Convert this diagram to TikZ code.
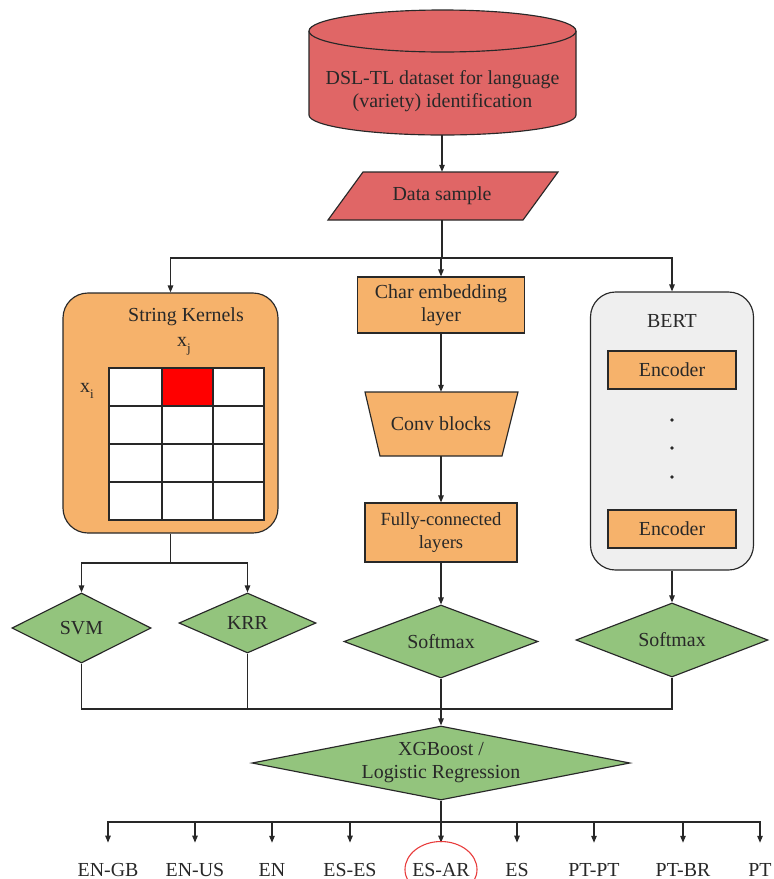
\documentclass[tikz,border=0pt]{standalone}
\usepackage{fontspec}
\setmainfont{Liberation Serif}
\usetikzlibrary{arrows.meta,shapes.geometric}
\definecolor{cylred}{RGB}{224,102,102}
\definecolor{orangef}{RGB}{246,178,107}
\definecolor{greenf}{RGB}{147,196,125}
\definecolor{grayf}{RGB}{239,239,239}
\definecolor{lc}{RGB}{40,40,40}
\definecolor{circred}{RGB}{232,60,60}
\begin{document}
\begin{tikzpicture}[x=1pt,y=-1pt,
  every node/.style={font=\fontsize{19.9}{23}\selectfont, text=lc},
  line/.style={draw=lc, line width=1.15pt},
  arr/.style={line, -{Triangle[length=7pt,width=5.5pt]}},
  txt/.style={inner sep=0pt, align=center},
  box/.style={line, fill=orangef, rectangle, inner sep=0pt, align=center},
  dia/.style={line, fill=greenf, diamond, inner sep=0pt, align=center},
  rbox/.style={line, rectangle, rounded corners=25pt, inner sep=0pt}]
\useasboundingbox (0,0) rectangle (774,879);

% cylinder
\path[line, fill=cylred] (309,31) -- (309,115) arc[start angle=180, end angle=0, x radius=133.5, y radius=20] -- (576,31);
\path[line, fill=cylred] (442.5,31) ellipse [x radius=133.5, y radius=21];
\node[txt] (db) at (442.5,91) {DSL-TL dataset for language\\(variety) identification};
\coordinate (dbb) at (442,135);

% data sample parallelogram
\path[line, fill=cylred] (363,172) -- (558,172) -- (523,220) -- (328,220) -- cycle;
\node[txt, minimum width=195pt, minimum height=48pt] (ds) at (442,196) {Data sample};

% String kernels
\node[rbox, fill=orangef, minimum width=215pt, minimum height=240pt] (sk) at (170.5,413) {};
\node[txt] (skt) at (186,317) {String Kernels};
\node[txt] (xj) at (184,346) {x\raisebox{-6pt}{\fontsize{13}{13}\selectfont j}};
\node[txt] (xi) at (87,391) {x\raisebox{-6pt}{\fontsize{13}{13}\selectfont i}};
\path[line, fill=white] (109,368) rectangle (264,520);
\path[line, fill=red] (162,368) rectangle (213,406);
\draw[line] (162,368) -- (162,520) (213,368) -- (213,520)
            (109,406) -- (264,406) (109,444) -- (264,444) (109,482) -- (264,482);

% center column
\node[box, minimum width=167pt, minimum height=56pt] (ce) at (441,305) {Char embedding\\layer};
\path[line, fill=orangef] (365,392) -- (518,392) -- (502,456) -- (380,456) -- cycle;
\node[txt, minimum width=153pt, minimum height=64pt] (conv) at (441,424) {Conv blocks};
\node[box, minimum width=152pt, minimum height=59pt, font=\fontsize{18.6}{23}\selectfont] (fc) at (441,532.5) {Fully-connected\\layers};
\node[dia, minimum width=194pt, minimum height=73pt, aspect=2.66] (sm1) at (441,641.5) {Softmax};

% BERT
\node[rbox, fill=grayf, minimum width=163pt, minimum height=278pt] (bert) at (672,431) {};
\node[txt] (bt) at (672,321) {BERT};
\node[box, minimum width=128pt, minimum height=38pt] (enc1) at (672,370) {Encoder};
\node[box, minimum width=128pt, minimum height=38pt] (enc2) at (672,529) {Encoder};
\fill[lc] (672,420) circle (1.9) (672,448) circle (1.9) (672,477) circle (1.9);
\node[dia, minimum width=192pt, minimum height=74pt, aspect=2.6] (sm2) at (672,640) {Softmax};

% SVM / KRR
\node[dia, minimum width=139pt, minimum height=70pt, aspect=2] (svm) at (81.5,628) {SVM};
\node[dia, minimum width=137pt, minimum height=60pt, aspect=2.3] (krr) at (247.5,623) {KRR};

% XGBoost
\node[dia, minimum width=378pt, minimum height=74pt, aspect=5.1] (xgb) at (441,763) {XGBoost /\\Logistic Regression};

% connectors
\draw[arr] (dbb) -- (ds.north);
\draw[line] (ds.south) -- (442,258) coordinate (sp1);
\draw[arr] (sp1) -| (sk.north);
\draw[arr] (sp1) -| (bert.north);
\draw[arr] (sp1) -| (ce.north);
\draw[arr] (ce.south) -- (conv.north);
\draw[arr] (conv.south) -- (fc.north);
\draw[arr] (fc.south) -- (sm1.north);
\draw[arr] (bert.south) -- (sm2.north);
\draw[line] (sk.south) -- (170.5,563) coordinate (sp2);
\draw[arr] (sp2) -| (svm.north);
\draw[arr] (sp2) -| (krr.north);
\coordinate (mg) at (441,709);
\draw[line] (svm.south) |- (mg);
\draw[line] (krr.south) |- (mg);
\draw[line] (sm2.south) |- (mg);
\draw[arr] (sm1.south) -- (xgb.north);
\draw[line] (xgb.south) -- (441,822) coordinate (sp3);

% outputs
\foreach \n/\x/\t in {o1/108/EN-GB, o2/195/EN-US, o3/272/EN, o4/350/ES-ES, o5/441/ES-AR, o6/517/ES, o7/594/PT-PT, o8/683/PT-BR, o9/760/PT}{
  \node[txt, anchor=base] (\n) at (\x,876) {\t};
  \draw[arr, shorten >=20pt] (sp3) -| (\n.north);
}
\draw[draw=circred, line width=1.1pt] (o5.center) ellipse [x radius=36, y radius=28];
\end{tikzpicture}
\end{document}
